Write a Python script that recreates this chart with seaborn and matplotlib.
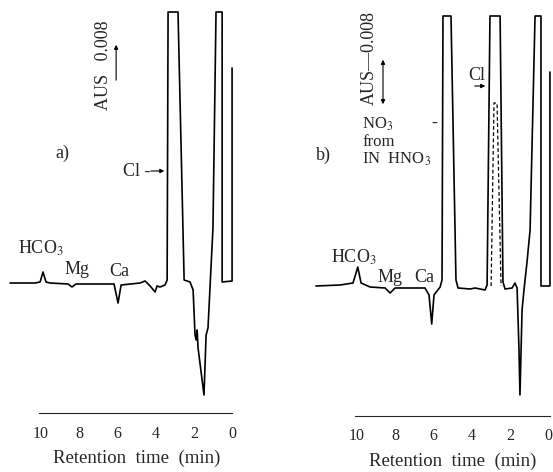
import matplotlib
matplotlib.use("Agg")
import matplotlib.pyplot as plt
import seaborn as sns
import pandas as pd

# chromatogram a) : retention time (min) vs signal (mAU, baseline = 0)
time_a = [11.62, 10.31, 10.05, 9.90, 9.74, 9.53, 8.59, 8.38, 8.17, 7.43, 6.91, 6.18,
          5.97, 5.81, 4.82, 4.55, 4.29, 4.03, 3.93, 3.77, 3.51, 3.40, 3.35, 2.83,
          2.51, 2.20, 2.04, 1.94, 1.88, 1.83, 1.78, 1.47, 1.36, 1.26, 1.00, 0.84,
          0.52, 0.52, 0.00, 0.00]
sig_a = [0, 0, 0.2, 2.2, 0.2, 0, -0.2, -0.8, -0.2, -0.2, -0.2, -0.2,
         -4.0, -0.4, 0, 0.4, -0.6, -1.8, -0.6, -0.8, -0.4, 0.6, 54.2, 54.2,
         0.6, 0.2, -1.4, -10.4, -11.4, -9.4, -13.0, -22.4, -10.4, -9.0, 11.0, 54.2,
         54.2, 0.2, 0.4, 43.0]

# chromatogram b)
time_b = [12.15, 10.89, 10.21, 9.96, 9.79, 9.32, 8.53, 8.27, 8.01, 6.44, 6.23, 6.09,
          5.97, 5.65, 5.55, 5.50, 5.08, 4.82, 4.71, 4.08, 3.82, 3.30, 3.19, 3.04,
          2.51, 2.36, 2.25, 1.88, 1.73, 1.62, 1.52, 1.47, 1.36, 1.26, 1.10, 0.94,
          0.68, 0.37, 0.37, -0.10, -0.10]
sig_b = [0, 0.2, 0.6, 3.8, 0.6, -0.2, -0.4, -1.4, -0.4, -0.4, -1.8, -7.6,
         -1.8, -0.2, 1.2, 54.0, 54.0, 1.2, -0.4, -0.6, -0.4, -0.8, 0.2, 54.0,
         54.0, 0.8, -0.6, -0.4, 0.6, -0.4, -12.8, -21.8, -4.8, -0.8, 4.8, 11.2,
         54.0, 54.0, 0, 0, 42.8]

# NO3 peak from 1N HNO3 (dashed)
time_no3 = [2.98, 2.83, 2.67, 2.46]
sig_no3 = [0, 36.6, 36.6, 0]

ticks = [10, 8, 6, 4, 2, 0]

sns.set_style("white")
plt.rcParams["font.family"] = ["Liberation Serif", "DejaVu Serif"]
plt.rcParams["mathtext.fontset"] = "stix"

fig = plt.figure(figsize=(5.53, 4.72), dpi=100)
ax_a = fig.add_axes([0, 0, 276 / 553, 1])
ax_b = fig.add_axes([277 / 553, 0, 276 / 553, 1])

df_a = pd.DataFrame({"t": time_a, "s": sig_a})
df_b = pd.DataFrame({"t": time_b, "s": sig_b})
df_n = pd.DataFrame({"t": time_no3, "s": sig_no3})

sns.lineplot(data=df_a, x="t", y="s", sort=False, estimator=None, color="black", lw=1.2, ax=ax_a)
sns.lineplot(data=df_b, x="t", y="s", sort=False, estimator=None, color="black", lw=1.2, ax=ax_b)
sns.lineplot(data=df_n, x="t", y="s", sort=False, estimator=None, color="black", lw=0.9,
             linestyle=(0, (3, 2)), ax=ax_b)

ax_a.set_xlim(12.15, -2.3)
ax_a.set_ylim(-37.8, 56.6)
ax_b.set_xlim(14.19, -0.26)
ax_b.set_ylim(-37.2, 57.2)

for ax, right in [(ax_a, 0.0), (ax_b, -0.1)]:
    for s in ["top", "left", "right"]:
        ax.spines[s].set_visible(False)
    ax.spines["bottom"].set_position(("data", -26))
    ax.spines["bottom"].set_bounds(10.1, right)
    ax.spines["bottom"].set_linewidth(0.8)
    ax.set_xticks(ticks)
    ax.set_xticklabels([str(t) for t in ticks])
    ax.tick_params(axis="x", direction="in", length=2, width=0.6, pad=9, labelsize=11.5)
    ax.set_yticks([])
    ax.set_xlabel("")
    ax.set_ylabel("")
    ax.patch.set_alpha(0)
    ax.text(4.97, -35.0, "Retention  time  (min)", ha="center", va="center", fontsize=13.5)

fs = 13
# panel a labels
ax_a.text(8.9, 26, "a)", ha="center", va="center", fontsize=fs)
ax_a.text(10.0, 7.0, r"HCO$_3$", ha="center", va="center", fontsize=fs)
ax_a.text(8.1, 2.8, "Mg", ha="center", va="center", fontsize=fs)
ax_a.text(5.9, 2.2, "Ca", ha="center", va="center", fontsize=fs)
ax_a.text(4.97, 22.4, "Cl -", ha="center", va="center", fontsize=fs)
ax_a.annotate("", xy=(3.4, 22.4), xytext=(4.4, 22.4),
              arrowprops=dict(arrowstyle="-|>", color="black", lw=0.8, mutation_scale=6))
ax_a.text(6.75, 43.6, "AUS   0.008", rotation=90, ha="center", va="center", fontsize=fs)
ax_a.annotate("", xy=(6.07, 48.2), xytext=(6.07, 40.0),
              arrowprops=dict(arrowstyle="-|>", color="black", lw=0.8, mutation_scale=6))

# panel b labels
ax_b.text(11.78, 26.2, "b)", ha="center", va="center", fontsize=fs)
ax_b.text(9.74, 32.4, r"NO$_3$", ha="left", va="center", fontsize=12)
ax_b.text(9.74, 28.9, "from", ha="left", va="center", fontsize=12)
ax_b.text(9.74, 25.4, r"IN  HNO$_3$", ha="left", va="center", fontsize=12)
ax_b.text(5.97, 32.6, "-", ha="center", va="center", fontsize=fs)
ax_b.text(10.16, 5.8, r"HCO$_3$", ha="center", va="center", fontsize=fs)
ax_b.text(8.27, 1.8, "Mg", ha="center", va="center", fontsize=fs)
ax_b.text(6.49, 1.8, "Ca", ha="center", va="center", fontsize=fs)
ax_b.text(3.72, 42.2, "Cl", ha="center", va="center", fontsize=fs)
ax_b.annotate("", xy=(3.14, 40.0), xytext=(3.98, 40.0),
              arrowprops=dict(arrowstyle="-|>", color="black", lw=0.8, mutation_scale=6))
ax_b.text(9.37, 45.6, "AUS\u20140.008", rotation=90, ha="center", va="center", fontsize=fs)
ax_b.annotate("", xy=(8.64, 45.8), xytext=(8.64, 35.8),
              arrowprops=dict(arrowstyle="<|-|>", color="black", lw=0.8, mutation_scale=6))

fig.savefig("out.png", dpi=100)
